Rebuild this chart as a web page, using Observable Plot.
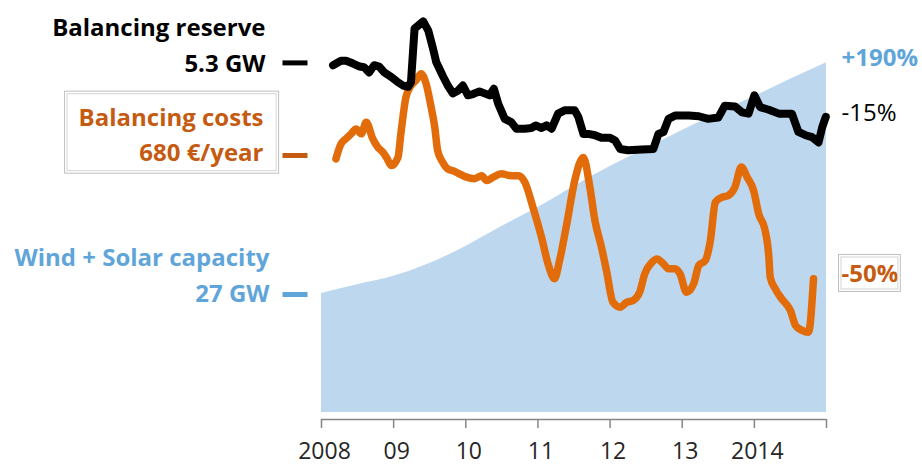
<!DOCTYPE html>
<html><head><meta charset="utf-8">
<script src="https://cdn.jsdelivr.net/npm/d3@7"></script>
<script src="https://cdn.jsdelivr.net/npm/@observablehq/plot@0.6"></script>
<style>body{margin:0;background:#fff}</style>
</head><body><div id="chart"></div><script>
// ---- data ----
const reserveYears = [2008.16,2008.27,2008.34,2008.43,2008.53,2008.59,2008.66,2008.73,2008.80,2008.87,2008.97,
 2009.06,2009.13,2009.20,2009.24,2009.29,2009.41,2009.48,2009.54,2009.59,2009.68,2009.75,2009.82,2009.89,2009.96,
 2010.03,2010.10,2010.19,2010.26,2010.33,2010.39,2010.45,2010.54,2010.63,2010.70,2010.82,2010.91,2010.97,
 2011.05,2011.12,2011.19,2011.28,2011.37,2011.51,2011.56,2011.63,2011.70,2011.79,2011.88,
 2012.00,2012.07,2012.14,2012.25,2012.44,2012.60,2012.67,2012.74,2012.81,2012.90,
 2013.09,2013.23,2013.36,2013.50,2013.59,2013.73,2013.83,2013.92,
 2014.00,2014.08,2014.20,2014.34,2014.52,2014.61,2014.71,2014.80,2014.89,2014.94,2014.99];
const reserveGW = [5.31,5.38,5.38,5.34,5.29,5.28,5.20,5.31,5.29,5.20,5.13,
 5.05,5.00,4.98,5.05,5.87,5.98,5.84,5.59,5.36,5.15,5.00,4.88,4.92,5.00,
 4.85,4.87,4.91,4.88,4.85,4.95,4.72,4.49,4.44,4.34,4.34,4.35,4.39,
 4.35,4.39,4.34,4.57,4.62,4.62,4.52,4.26,4.26,4.24,4.20,
 4.20,4.16,4.03,4.01,4.02,4.03,4.26,4.29,4.49,4.54,
 4.54,4.53,4.49,4.51,4.69,4.68,4.59,4.57,
 4.85,4.67,4.63,4.57,4.57,4.29,4.24,4.21,4.13,4.36,4.52];

const costYears = [2008.20,2008.27,2008.34,2008.41,2008.48,2008.55,2008.62,2008.71,2008.78,2008.85,2008.90,2008.97,
 2009.06,2009.10,2009.17,2009.24,2009.31,2009.38,2009.45,2009.52,2009.57,2009.61,2009.68,2009.75,2009.84,2009.91,
 2010.01,2010.12,2010.22,2010.29,2010.38,2010.49,2010.63,2010.73,2010.82,2010.93,
 2011.05,2011.14,2011.23,2011.30,2011.40,2011.51,2011.63,2011.72,2011.79,2011.88,2011.95,
 2012.04,2012.14,2012.23,2012.32,2012.41,2012.48,2012.58,2012.65,2012.74,2012.81,2012.90,2012.97,
 2013.06,2013.16,2013.23,2013.32,2013.39,2013.46,2013.55,2013.64,2013.73,2013.82,2013.90,2013.99,
 2014.06,2014.15,2014.20,2014.22,2014.29,2014.38,2014.50,2014.57,2014.66,2014.75,2014.82];
const costValues = [679,719,733,746,759,746,777,733,710,697,683,661,
 683,746,844,875,889,907,880,817,764,701,670,652,646,639,
 630,626,634,621,630,639,634,634,616,550,
 469,398,358,407,505,621,683,603,514,443,380,
 295,282,295,300,322,371,402,411,398,385,385,371,
 322,345,394,407,460,563,576,581,603,657,630,594,
 532,487,420,362,331,304,273,233,220,215,358];

const capacityYears = [2008,2008.5,2009,2009.5,2010,2010.5,2011,2011.5,2012,2012.5,2013,2013.5,2014,2014.5,2015];
const capacityGW = [27,29.0,30.9,33.8,37.7,42.2,46.5,51.3,55.8,59.9,64.0,67.9,71.7,75.6,79.4];

const tickYears = [2008,2009,2010,2011,2012,2013,2014,2015];
const tickLabels = ["2008","09","10","11","12","13","2014",""];

const seriesTitles = ["Balancing reserve","Balancing costs","Wind + Solar capacity"];
const seriesStartLabels = ["5.3 GW","680 €/year","27 GW"];
const seriesStartValues = [5.3, 680, 27];
const seriesChangeLabels = ["-15%","-50%","+190%"];

// ---- each series on its own vertical scale (value at full chart height) ----
const fullScale = [6.30, 1103, 93.5];
const norm = (v, i) => v / fullScale[i] * 100;
const yBase = -1.7;

const reserve = reserveYears.map((x, i) => ({x, y: norm(reserveGW[i], 0)}));
const costs = costYears.map((x, i) => ({x, y: norm(costValues[i], 1)}));
const capacity = capacityYears.map((x, i) => ({x, y: norm(capacityGW[i], 2)}));
const ends = [reserve.at(-1), costs.at(-1), capacity.at(-1)].map(d => ({x: 2015, y: d.y}));

const textColors = ["#000000", "#c55a11", "#5fa5d9"];
const layout = [
  {dx: -56, dyTitle: -36, dyValue: -2, dyDash: -3},
  {dx: -58, dyTitle: -35, dyValue: -5, dyDash: -3},
  {dx: -52, dyTitle: -36, dyValue: 1, dyDash: 1}
];
const dash = {draw(ctx) { ctx.rect(-12.5, -2.5, 25, 5); }};
const FONT = "'Open Sans', Lato, sans-serif";

const labelMarks = [];
seriesTitles.forEach((t, i) => {
  const d = [{x: 2008, y: norm(seriesStartValues[i], i)}];
  const L = layout[i];
  const font = {fontSize: 24, fontWeight: "bold", fill: textColors[i], textAnchor: "end"};
  labelMarks.push(Plot.text(d, {x: "x", y: "y", text: () => t, dx: L.dx, dy: L.dyValue + L.dyTitle, ...font}));
  labelMarks.push(Plot.text(d, {x: "x", y: "y", text: () => seriesStartLabels[i], dx: L.dx, dy: L.dyValue, ...font}));
  labelMarks.push(Plot.dot(d, {x: "x", y: "y", symbol: dash, fill: textColors[i], stroke: null, dx: -26.5, dy: L.dyDash}));
  labelMarks.push(Plot.text([ends[i]], {x: "x", y: "y", text: () => seriesChangeLabels[i], dx: 15, dy: -4, textAnchor: "start", fontSize: 24, fontWeight: i === 0 ? "normal" : "bold", fill: textColors[i]}));
});

const chart = Plot.plot({
  width: 922, height: 464,
  marginLeft: 321, marginRight: 96, marginTop: 0, marginBottom: 45,
  style: {fontFamily: FONT, background: "#fff", overflow: "visible"},
  x: {domain: [2008, 2015], axis: null, label: null},
  y: {domain: [yBase, 100], axis: null, label: null},
  marks: [
    Plot.areaY(capacity, {x: "x", y: "y", fill: "#bdd7ee", curve: "monotone-x"}),
    Plot.line(costs, {x: "x", y: "y", stroke: "#e36c0a", strokeWidth: 7.5, strokeLinejoin: "round", strokeLinecap: "round", curve: "monotone-x"}),
    Plot.line(reserve, {x: "x", y: "y", stroke: "#000", strokeWidth: 8, strokeLinejoin: "round", strokeLinecap: "round"}),
    Plot.ruleY([yBase], {stroke: "#868686", strokeWidth: 1.5}),
    Plot.axisX({ticks: tickYears, tickSize: 9, tickFormat: () => "", label: null, stroke: "#868686", strokeWidth: 1.5}),
    Plot.text(tickYears, {x: d => d, y: yBase, text: (d, i) => tickLabels[i], dy: 23, dx: 3, lineAnchor: "top", fontSize: 23, fill: "#262626"}),
    ...labelMarks
  ]
});
document.getElementById("chart").appendChild(chart);

// double grey frames around the cost labels
const svg = d3.select(chart);
const byText = list => svg.selectAll("text").filter(function () { return list.includes(this.textContent); });
function frameAround(sel, pad) {
  const root = chart.getBoundingClientRect();
  const boxes = sel.nodes().map(n => n.getBoundingClientRect());
  if (!boxes.length) return;
  const x0 = d3.min(boxes, b => b.left) - root.left - pad[3];
  const x1 = d3.max(boxes, b => b.right) - root.left + pad[1];
  const y0 = d3.min(boxes, b => b.top) - root.top - pad[0];
  const y1 = d3.max(boxes, b => b.bottom) - root.top + pad[2];
  svg.append("rect").attr("x", x0).attr("y", y0).attr("width", x1 - x0).attr("height", y1 - y0)
    .attr("fill", "none").attr("stroke", "#bfbfbf").attr("stroke-width", 1);
  svg.append("rect").attr("x", x0 + 2.5).attr("y", y0 + 2.5).attr("width", x1 - x0 - 5).attr("height", y1 - y0 - 5)
    .attr("fill", "none").attr("stroke", "#d4d4d4").attr("stroke-width", 1);
}
frameAround(byText([seriesTitles[1], seriesStartLabels[1]]), [9, 15, 5, 14]);
frameAround(byText([seriesChangeLabels[1]]), [2, 2, 2, 3]);
</script></body></html>
